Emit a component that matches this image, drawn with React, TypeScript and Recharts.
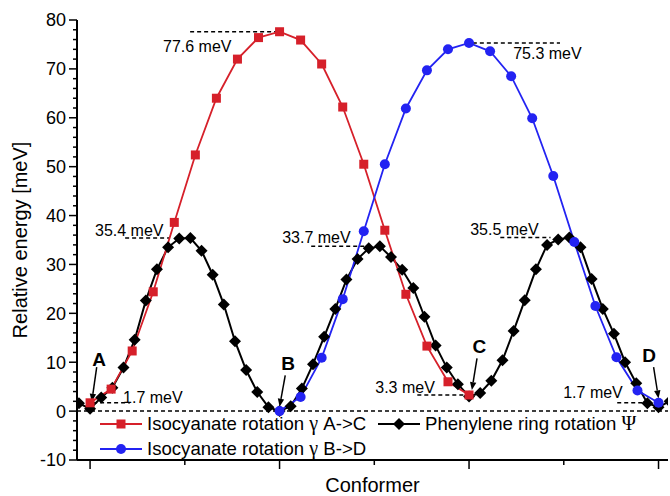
import {
  Label,
  Legend,
  Line,
  LineChart,
  ReferenceDot,
  ReferenceLine,
  XAxis,
  YAxis,
} from "recharts";

// energies in meV, one value per conformer step
const ISO_AC_ENERGY = [
  1.7, 4.5, 12.3, 24.4, 38.6, 52.4, 64.0, 72.0, 76.4, 77.6, 75.9, 71.0, 62.2,
  50.5, 37.0, 23.9, 13.3, 6.0, 3.3,
];
const ISO_BD_ENERGY = [
  0, 2.9, 10.9, 22.9, 36.8, 50.5, 61.9, 69.7, 74.0, 75.3, 73.6, 68.5, 59.9,
  48.1, 34.6, 21.5, 11.0, 4.2, 1.7,
];
const RING_ENERGY = [
  1.6, 0.5, 2.8, 4.8, 8.9, 14.6, 22.6, 29.0, 33.5, 35.3, 35.4, 32.8, 27.9, 21.8,
  14.3, 8.4, 3.9, 0.8, 0.0, 1.0, 4.6, 9.6, 15.2, 20.9, 26.9, 31.1, 33.3, 33.7,
  31.5, 28.9, 25.2, 19.3, 13.4, 8.9, 5.5, 3.0, 3.7, 6.2, 10.4, 16.4, 22.7, 29.0,
  34.0, 35.1, 35.5, 33.5, 27.0, 20.9, 15.8, 10.0, 5.7, 1.6, 0.8, 2.0,
];

const X_TICKS = [0, 0.5, 1, 1.5, 2, 2.5, 3];
const Y_TICKS = [
  -10, -8, -6, -4, -2, 0, 2, 4, 6, 8, 10, 12, 14, 16, 18, 20, 22, 24, 26, 28,
  30, 32, 34, 36, 38, 40, 42, 44, 46, 48, 50, 52, 54, 56, 58, 60, 62, 64, 66,
  68, 70, 72, 74, 76, 78, 80,
];

const LEGEND_ITEMS = [
  { name: "Isocyanate rotation ", sym: "γ", tail: " A->C" },
  { name: "Phenylene ring rotation ", sym: "Ψ", tail: "" },
  { name: "Isocyanate rotation ", sym: "γ", tail: " B->D" },
];

// A = 0, B = 1, C = 2, D = 3 on the conformer axis
const isoAC = ISO_AC_ENERGY.map((e, i) => ({ x: i / 9, e }));
const isoBD = ISO_BD_ENERGY.map((e, i) => ({ x: 1 + i / 9, e }));
const ring = RING_ENERGY.map((e, i) => ({ x: (i - 1) / 17, e }));

// annotations: [text, textX, textY, lineFrom, lineTo, level]
const MEV_NOTES: [string, number, number, number, number, number][] = [
  ["77.6 meV", 0.385, 74.7, 0.528, 0.99, 77.6],
  ["75.3 meV", 2.233, 73.3, 2.02, 2.48, 75.3],
  ["35.4 meV", 0.026, 37.0, 0.185, 0.42, 35.4],
  ["33.7 meV", 1.014, 35.5, 1.167, 1.463, 33.7],
  ["35.5 meV", 2.006, 37.2, 2.165, 2.43, 35.5],
  ["3.3 meV", 1.505, 4.9, 1.727, 2.006, 3.3],
  ["1.7 meV", 0.174, 2.9, 0.016, 0.211, 1.7],
  ["1.7 meV", 2.497, 3.9, 2.782, 2.941, 1.7],
];

// letters with arrows: [letter, textX, textY, tailX, tailY, headX, headY]
const POINT_NOTES: [string, number, number, number, number, number, number][] = [
  ["A", 0.048, 10.6, 0.035, 9.0, 0.009, 1.9],
  ["B", 1.045, 9.8, 1.03, 7.3, 1.0, 0.9],
  ["C", 2.054, 13.3, 2.042, 10.8, 2.015, 4.3],
  ["D", 2.951, 11.4, 2.974, 9.0, 3.0, 2.6],
];

const RED = "#d6202a";
const BLUE = "#2323f2";
const FONT = "'Liberation Sans', Arial, sans-serif";
const SERIF = "'Liberation Serif', 'DejaVu Serif', serif";

const squareDot = (p: any) => (
  <rect key={`sq-${p.index}`} x={p.cx - 4.5} y={p.cy - 4.5} width={9} height={9} fill={RED} />
);
const circleDot = (p: any) => (
  <circle key={`ci-${p.index}`} cx={p.cx} cy={p.cy} r={5} fill={BLUE} />
);
const diamondDot = (p: any) => (
  <path
    key={`di-${p.index}`}
    d={`M${p.cx} ${p.cy - 6}L${p.cx + 6} ${p.cy}L${p.cx} ${p.cy + 6}L${p.cx - 6} ${p.cy}Z`}
    fill="#000"
  />
);

function BottomTick({ x, y, payload }: any) {
  const len = payload.value % 1 === 0 ? 9 : 5;
  return <line x1={x} y1={y} x2={x} y2={y + len} stroke="#000" strokeWidth={1.5} />;
}

function TopTick({ x, y, payload }: any) {
  const len = payload.value % 1 === 0 ? 9 : 5;
  return <line x1={x} y1={y} x2={x} y2={y + len} stroke="#000" strokeWidth={1.5} />;
}

function LeftTick({ x, y, payload }: any) {
  const major = payload.value % 10 === 0;
  const len = major ? 8 : 4;
  return (
    <g>
      <line x1={x} y1={y} x2={x - len} y2={y} stroke="#000" strokeWidth={1.5} />
      {major && (
        <text x={x - len - 3} y={y} dy="0.36em" textAnchor="end" fontSize={18} fill="#000" fontFamily={FONT}>
          {payload.value}
        </text>
      )}
    </g>
  );
}

function RightTick({ x, y, payload }: any) {
  const len = payload.value % 10 === 0 ? 8 : 4;
  return <line x1={x} y1={y} x2={x - len} y2={y} stroke="#000" strokeWidth={1.5} />;
}

function Arrow({ x1, y1, x2, y2 }: any) {
  const a = Math.atan2(y2 - y1, x2 - x1);
  const hl = 8;
  const hw = 3.2;
  const bx = x2 - hl * Math.cos(a);
  const by = y2 - hl * Math.sin(a);
  const px = -Math.sin(a) * hw;
  const py = Math.cos(a) * hw;
  return (
    <g>
      <line x1={x1} y1={y1} x2={bx} y2={by} stroke="#000" strokeWidth={1.5} />
      <path d={`M${x2} ${y2}L${bx + px} ${by + py}L${bx - px} ${by - py}Z`} fill="#000" />
    </g>
  );
}

function Sample({ kind }: { kind: number }) {
  const color = kind === 0 ? RED : kind === 2 ? BLUE : "#000";
  return (
    <svg width={42} height={20} style={{ display: "block" }}>
      <line x1={0} y1={10} x2={42} y2={10} stroke={color} strokeWidth={2} />
      {kind === 0 && <rect x={16.5} y={5.5} width={9} height={9} fill={RED} />}
      {kind === 1 && <path d="M21 4L27 10L21 16L15 10Z" fill="#000" />}
      {kind === 2 && <circle cx={21} cy={10} r={5} fill={BLUE} />}
    </svg>
  );
}

function LegendBox() {
  const pos = [
    { left: 0, top: 0 },
    { left: 278, top: 0 },
    { left: 0, top: 25 },
  ];
  return (
    <div style={{ position: "relative", width: 560, height: 50, fontFamily: FONT, fontSize: 18.6, color: "#000" }}>
      {LEGEND_ITEMS.map((item, i) => (
        <div
          key={i}
          style={{ position: "absolute", left: pos[i].left, top: pos[i].top, display: "flex", alignItems: "center", gap: 5, whiteSpace: "nowrap", lineHeight: "24px" }}
        >
          <Sample kind={i} />
          <span>
            {item.name}
            <span style={{ fontFamily: SERIF, fontSize: 20 }}>{item.sym}</span>
            {item.tail}
          </span>
        </div>
      ))}
    </div>
  );
}

export default function App() {
  return (
    <div style={{ position: "absolute", left: 0, top: 0, background: "#fff", fontFamily: FONT }}>
      <LineChart width={670} height={496} margin={{ top: 20, right: 2, left: 8, bottom: 0 }}>
        <XAxis
          dataKey="x"
          type="number"
          domain={[-0.069, 3.05]}
          allowDataOverflow
          ticks={X_TICKS}
          interval={0}
          tickSize={0}
          tickMargin={0}
          tick={<BottomTick />}
          axisLine={{ stroke: "#000", strokeWidth: 2 }}
          height={36}
        >
          <Label value="Conformer" position="insideBottom" offset={4} fontSize={20} fill="#000" fontFamily={FONT} />
        </XAxis>
        <XAxis
          xAxisId="top"
          orientation="top"
          dataKey="x"
          type="number"
          domain={[-0.069, 3.05]}
          allowDataOverflow
          ticks={X_TICKS}
          interval={0}
          tickSize={0}
          tickMargin={0}
          tick={<TopTick />}
          axisLine={{ stroke: "#000", strokeWidth: 2 }}
          height={0}
        />
        <YAxis
          type="number"
          domain={[-10, 80]}
          allowDataOverflow
          ticks={Y_TICKS}
          interval={0}
          tickSize={0}
          tickMargin={0}
          tick={<LeftTick />}
          axisLine={{ stroke: "#000", strokeWidth: 2 }}
          width={69}
        >
          <Label
            value="Relative energy [meV]"
            angle={-90}
            position="insideLeft"
            offset={12}
            fontSize={20}
            fill="#000"
            fontFamily={FONT}
            style={{ textAnchor: "middle" }}
          />
        </YAxis>
        <YAxis
          yAxisId="right"
          orientation="right"
          type="number"
          domain={[-10, 80]}
          allowDataOverflow
          ticks={Y_TICKS}
          interval={0}
          tickSize={0}
          tickMargin={0}
          tick={<RightTick />}
          axisLine={{ stroke: "#000", strokeWidth: 2 }}
          width={0}
        />

        <ReferenceLine y={0} stroke="#000" strokeWidth={1.5} strokeDasharray="4 3" />
        {MEV_NOTES.map(([, , , from, to, level], i) => (
          <ReferenceLine
            key={`ml-${i}`}
            segment={[{ x: from, y: level }, { x: to, y: level }]}
            stroke="#000"
            strokeWidth={1.5}
            strokeDasharray="4 3"
          />
        ))}

        <Line
          data={ring}
          dataKey="e"
          stroke="#000"
          strokeWidth={2}
          dot={diamondDot}
          isAnimationActive={false}
        />
        <Line
          data={isoAC}
          dataKey="e"
          stroke={RED}
          strokeWidth={1.8}
          dot={squareDot}
          isAnimationActive={false}
        />
        <Line
          data={isoBD}
          dataKey="e"
          stroke={BLUE}
          strokeWidth={1.8}
          dot={circleDot}
          isAnimationActive={false}
        />

        {MEV_NOTES.map(([text, tx, ty], i) => (
          <ReferenceDot
            key={`mt-${i}`}
            x={tx}
            y={ty}
            r={0}
            shape={(p: any) => (
              <text x={p.cx} y={p.cy} dy="0.36em" fontSize={16} fill="#000" fontFamily={FONT}>
                {text}
              </text>
            )}
          />
        ))}
        {POINT_NOTES.map(([, , , x1, y1, x2, y2], i) => (
          <ReferenceLine
            key={`pa-${i}`}
            segment={[{ x: x1, y: y1 }, { x: x2, y: y2 }]}
            shape={<Arrow />}
          />
        ))}
        {POINT_NOTES.map(([letter, tx, ty], i) => (
          <ReferenceDot
            key={`pl-${i}`}
            x={tx}
            y={ty}
            r={0}
            shape={(p: any) => (
              <text x={p.cx} y={p.cy} dy="0.36em" textAnchor="middle" fontSize={19} fontWeight="bold" fill="#000" fontFamily={FONT}>
                {letter}
              </text>
            )}
          />
        ))}

        <Legend
          layout="horizontal"
          align="center"
          verticalAlign="middle"
          content={<LegendBox />}
          wrapperStyle={{ left: 100, top: 411, width: 560 }}
        />
      </LineChart>
    </div>
  );
}
